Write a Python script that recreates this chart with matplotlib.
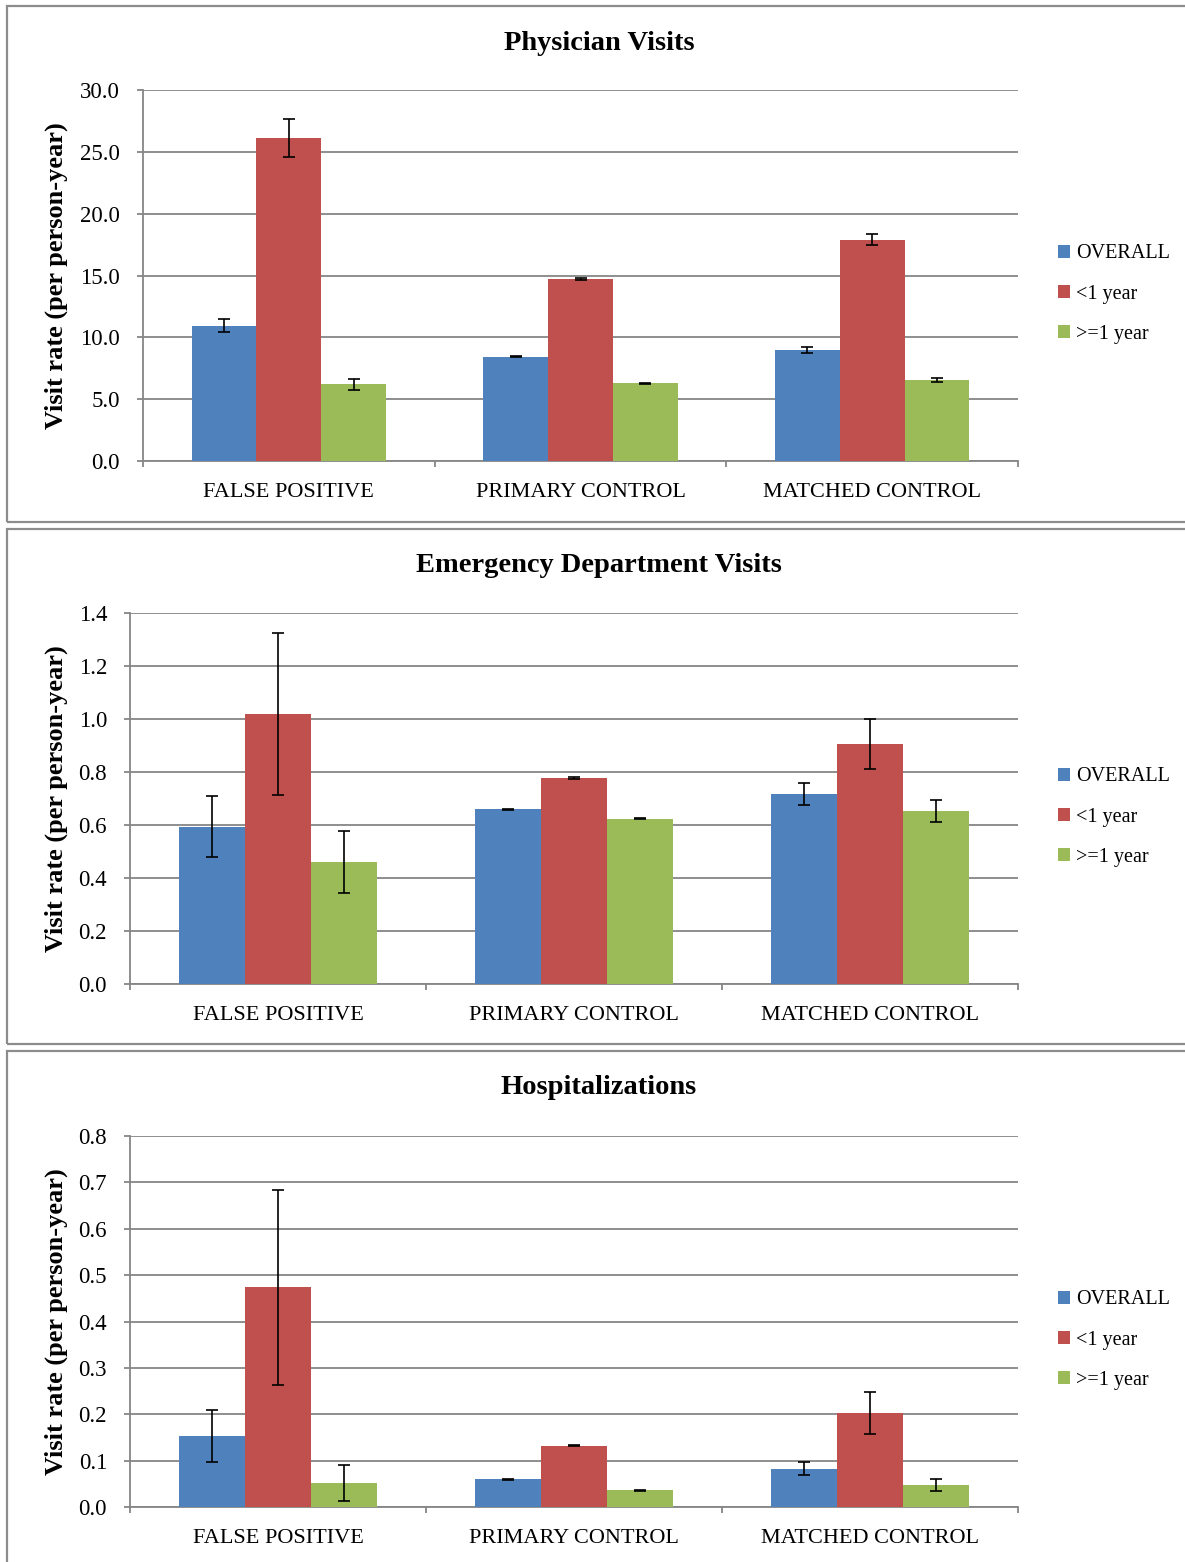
import matplotlib
matplotlib.use("Agg")
import matplotlib.pyplot as plt
from matplotlib.patches import Rectangle
import numpy as np

plt.rcParams['font.family'] = ['Liberation Serif', 'DejaVu Serif']

groups = ["FALSE POSITIVE", "PRIMARY CONTROL", "MATCHED CONTROL"]
series = ["OVERALL", "<1 year", ">=1 year"]
colors = ["#4F81BD", "#C0504D", "#9BBB59"]

# Physician visits
phys_overall = [10.95, 8.43, 8.97]
phys_lt1 = [26.1, 14.73, 17.9]
phys_ge1 = [6.2, 6.3, 6.55]
phys_overall_err = [0.5, 0.04, 0.25]
phys_lt1_err = [1.55, 0.06, 0.45]
phys_ge1_err = [0.45, 0.04, 0.17]

# Emergency department visits
ed_overall = [0.593, 0.660, 0.717]
ed_lt1 = [1.02, 0.777, 0.906]
ed_ge1 = [0.46, 0.623, 0.653]
ed_overall_err = [0.115, 0.002, 0.04]
ed_lt1_err = [0.305, 0.003, 0.093]
ed_ge1_err = [0.116, 0.002, 0.043]

# Hospitalizations
hosp_overall = [0.153, 0.060, 0.082]
hosp_lt1 = [0.474, 0.132, 0.202]
hosp_ge1 = [0.052, 0.036, 0.047]
hosp_overall_err = [0.057, 0.001, 0.014]
hosp_lt1_err = [0.21, 0.001, 0.045]
hosp_ge1_err = [0.038, 0.001, 0.013]

W, H = 1185, 1562
fig = plt.figure(figsize=(W / 100, H / 100), dpi=100)

panels = [
    dict(title="Physician Visits", vals=[phys_overall, phys_lt1, phys_ge1],
         errs=[phys_overall_err, phys_lt1_err, phys_ge1_err],
         ylim=30, step=5, box=(6, 522), ax=(143, 1018, 90, 461)),
    dict(title="Emergency Department Visits", vals=[ed_overall, ed_lt1, ed_ge1],
         errs=[ed_overall_err, ed_lt1_err, ed_ge1_err],
         ylim=1.4, step=0.2, box=(529, 1044), ax=(130, 1018, 613, 984)),
    dict(title="Hospitalizations", vals=[hosp_overall, hosp_lt1, hosp_ge1],
         errs=[hosp_overall_err, hosp_lt1_err, hosp_ge1_err],
         ylim=0.8, step=0.1, box=(1051, 1600), ax=(130, 1018, 1136, 1507)),
]

grid_c = "#868686"
width = 1 / 4.5
x = np.arange(len(groups))

for p in panels:
    # panel frame
    top, bot = p["box"]
    fig.patches.append(Rectangle((7 / W, 1 - bot / H), (1200 - 7) / W, (bot - top) / H,
                                 transform=fig.transFigure, fill=False,
                                 edgecolor="#8c8c8c", linewidth=1.6))
    l, r, t, b = p["ax"]
    ax = fig.add_axes([l / W, 1 - b / H, (r - l) / W, (b - t) / H])
    handles = []
    for i in range(3):
        bars = ax.bar(x + (i - 1) * width, p["vals"][i], width, color=colors[i],
                      yerr=p["errs"][i], capsize=4,
                      error_kw=dict(elinewidth=1.2, capthick=1.2, ecolor="black"),
                      label=series[i], zorder=3)
        handles.append(bars)
    ax.set_xlim(-0.5, 2.5)
    ax.set_ylim(0, p["ylim"])
    yt = np.round(np.arange(0, p["ylim"] + p["step"] / 2, p["step"]), 3)
    ax.set_yticks(yt)
    ax.set_yticklabels(["{:.1f}".format(v) for v in yt])
    ax.yaxis.grid(True, color=grid_c, linewidth=1.3, zorder=0)
    ax.set_axisbelow(True)
    ax.set_xticks([-0.5, 0.5, 1.5, 2.5])
    ax.set_xticklabels([])
    ax.set_xticks(x, minor=True)
    ax.set_xticklabels(groups, minor=True)
    ax.tick_params(axis="x", which="major", length=4.5, width=1.3, color=grid_c, direction="out")
    ax.tick_params(axis="x", which="minor", length=0, pad=16, labelsize=16)
    ax.tick_params(axis="y", length=4.5, width=1.3, color=grid_c, pad=12, labelsize=16.5)
    for s in ["top", "right"]:
        ax.spines[s].set_visible(False)
    for s in ["left", "bottom"]:
        ax.spines[s].set_color(grid_c)
        ax.spines[s].set_linewidth(1.3)
    ax.set_ylabel("Visit rate (per person-year)", fontsize=19, fontweight="bold")
    ax.yaxis.set_label_coords((68 - l) / (r - l), 0.5)
    fig.text(599 / W, 1 - (top + 37) / H, p["title"], ha="center", va="center",
             fontsize=20.5, fontweight="bold")
    ax.legend(handles=handles, loc="center left",
              bbox_to_anchor=((1050 - l) / (r - l), 0.45),
              frameon=False, fontsize=14.5, handlelength=0.6, handleheight=0.6,
              handletextpad=0.3, labelspacing=1.05, borderaxespad=0)

fig.savefig("out.png", dpi=100)
